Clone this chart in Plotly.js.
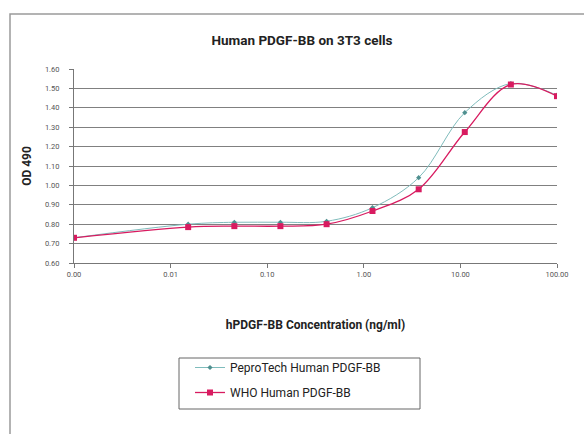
<!DOCTYPE html>
<html>
<head>
<meta charset="utf-8">
<script src="https://cdn.plot.ly/plotly-3.0.1.min.js"></script>
<style>html,body{margin:0;padding:0;background:#fff;}#chart{width:584px;height:434px;}</style>
</head>
<body>
<div id="chart"></div>
<script>
// Concentrations (ng/ml); first point is the blank shown at "0.00" on the log axis
var concentration = [0.001, 0.0152, 0.0457, 0.137, 0.412, 1.23, 3.70, 11.1, 33.3, 100];
var peprotechOD = [0.73, 0.80, 0.81, 0.81, 0.815, 0.885, 1.04, 1.375, 1.525, 1.465];
var whoOD = [0.73, 0.785, 0.79, 0.79, 0.80, 0.868, 0.98, 1.275, 1.52, 1.46];
var xTickVals = [0.001, 0.01, 0.1, 1, 10, 100];
var xTickText = ["0.00", "0.01", "0.10", "1.00", "10.00", "100.00"];
var seriesNames = ["PeproTech Human PDGF-BB", "WHO Human PDGF-BB"];

var W = 584, H = 434;
var L = 74, R = 557, T = 69, B = 263;
function px(x) { return (x - L) / (R - L); }
function py(y) { return (B - y) / (B - T); }

var font = "Roboto, Liberation Sans, Arial, sans-serif";

var traces = [
  {
    x: concentration, y: peprotechOD, name: seriesNames[0], type: "scatter", mode: "lines+markers",
    line: {color: "#7fbcbc", width: 1, shape: "spline"},
    marker: {color: "#4f8f8f", size: 4, symbol: "diamond"},
    legendgroup: "a"
  },
  {
    x: concentration, y: whoOD, name: seriesNames[1], type: "scatter", mode: "lines+markers",
    line: {color: "#d81b60", width: 1.3, shape: "spline"},
    marker: {color: "#d81b60", size: 6, symbol: "square"},
    legendgroup: "b"
  }
];

var layout = {
  width: W, height: H,
  margin: {l: L, r: W - R, t: T, b: H - B, pad: 0},
  paper_bgcolor: "#ffffff", plot_bgcolor: "#ffffff",
  font: {family: font, color: "#333"},
  title: {
    text: "<b>Human PDGF-BB on 3T3 cells</b>",
    font: {family: font, size: 13.5, color: "#222"},
    x: 302 / W, xanchor: "center", xref: "container",
    y: 1 - 40 / H, yanchor: "middle", yref: "container"
  },
  xaxis: {
    type: "log", range: [-3, 2],
    tickvals: xTickVals, ticktext: xTickText,
    ticks: "outside", ticklen: 4, tickcolor: "#777",
    tickfont: {family: font, size: 7.5, color: "#555"},
    showgrid: false, zeroline: false,
    showline: true, linecolor: "#777", linewidth: 1,
    title: {text: "<b>hPDGF-BB Concentration (ng/ml)</b>", font: {family: font, size: 12, color: "#222"}, standoff: 42}
  },
  yaxis: {
    range: [0.6, 1.6], dtick: 0.1, tick0: 0.6, tickformat: ".2f",
    ticks: "outside", ticklen: 4, tickcolor: "#777", ticklabelstandoff: 8,
    tickfont: {family: font, size: 7.5, color: "#555"},
    showgrid: true, gridcolor: "#808080", gridwidth: 1,
    zeroline: false, showline: true, linecolor: "#777", linewidth: 1,
    title: {text: "<b>OD 490</b>", font: {family: font, size: 12, color: "#222"}, standoff: 10}
  },
  showlegend: true,
  legend: {
    x: px(190), xanchor: "left", y: py(353), yanchor: "top",
    bgcolor: "rgba(0,0,0,0)", borderwidth: 0,
    font: {family: font, size: 12, color: "#222"},
    tracegroupgap: 6, traceorder: "grouped"
  },
  shapes: [
    {type: "rect", xref: "paper", yref: "paper", x0: px(10), x1: px(600), y0: py(450), y1: py(14),
     line: {color: "#9a9a9a", width: 1.5}, fillcolor: "rgba(0,0,0,0)", layer: "below"},
    {type: "rect", xref: "paper", yref: "paper", x0: px(179), x1: px(420), y0: py(409), y1: py(358),
     line: {color: "#666", width: 1}, fillcolor: "rgba(0,0,0,0)", layer: "below"}
  ]
};

Plotly.newPlot("chart", traces, layout, {displayModeBar: false, staticPlot: true});
</script>
</body>
</html>
